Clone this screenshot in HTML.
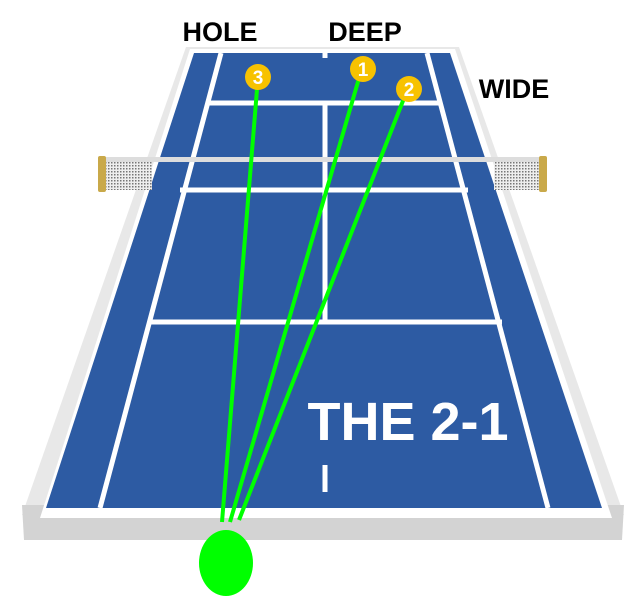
<!DOCTYPE html>
<html><head><style>body{margin:0;background:#fff}svg{display:block}</style></head><body>
<svg width="644" height="610" viewBox="0 0 644 610" xmlns="http://www.w3.org/2000/svg">
<defs>
<pattern id="m" width="3" height="3" patternUnits="userSpaceOnUse">
<rect width="3" height="3" fill="#eee"/><rect width="1.5" height="1.5" fill="#777"/>
</pattern>
</defs>
<polygon points="186,47 459,47 624,515 22,515" fill="#e8e8e8"/>
<polygon points="22,505 624,505 622,540 24,540" fill="#d3d3d3"/>
<polygon points="190,49 455,49 612,518 40,518" fill="#fff"/>
<polygon points="194,53 450,53 602,508 46,508" fill="#2d5ba3"/>
<g stroke="#fff" stroke-width="5" fill="none">
<line x1="221" y1="53" x2="100" y2="508"/>
<line x1="427" y1="53" x2="548" y2="508"/>
<line x1="208" y1="103" x2="440" y2="103"/>
<line x1="325" y1="103" x2="325" y2="322"/>
<line x1="148" y1="322" x2="502" y2="322"/>
<line x1="325" y1="465" x2="325" y2="492"/>
<line x1="325" y1="53" x2="325" y2="58"/>
<line x1="180" y1="190" x2="468" y2="190"/>
</g>
<rect x="104" y="160" width="48" height="30" fill="url(#m)"/>
<rect x="494" y="160" width="46" height="30" fill="url(#m)"/>
<rect x="104" y="157" width="438" height="5" fill="#ddd"/>
<rect x="98" y="156" width="8" height="36" rx="2" fill="#c9a94a"/>
<rect x="539" y="156" width="8" height="36" rx="2" fill="#c9a94a"/>
<g stroke="#00ff00" stroke-width="4">
<line x1="258" y1="77" x2="222" y2="522"/>
<line x1="362" y1="68" x2="230" y2="522"/>
<line x1="408" y1="88" x2="239" y2="520"/>
</g>
<ellipse cx="226" cy="563" rx="27" ry="33" fill="#00ff00"/>
<g font-family="Liberation Sans, sans-serif" font-weight="bold">
<circle cx="258" cy="77" r="13" fill="#f7c200"/>
<text x="258" y="84" font-size="19" fill="#fff" text-anchor="middle">3</text>
<circle cx="363" cy="69" r="13" fill="#f7c200"/>
<text x="363" y="76" font-size="19" fill="#fff" text-anchor="middle">1</text>
<circle cx="409" cy="89" r="13" fill="#f7c200"/>
<text x="409" y="96" font-size="19" fill="#fff" text-anchor="middle">2</text>
<text x="220" y="41" font-size="27" fill="#000" text-anchor="middle">HOLE</text>
<text x="365" y="41" font-size="27" fill="#000" text-anchor="middle">DEEP</text>
<text x="514" y="98" font-size="27" fill="#000" text-anchor="middle">WIDE</text>
<text x="408" y="440" font-size="54" fill="#fff" text-anchor="middle">THE 2-1</text>
</g>
</svg>
</body></html>
